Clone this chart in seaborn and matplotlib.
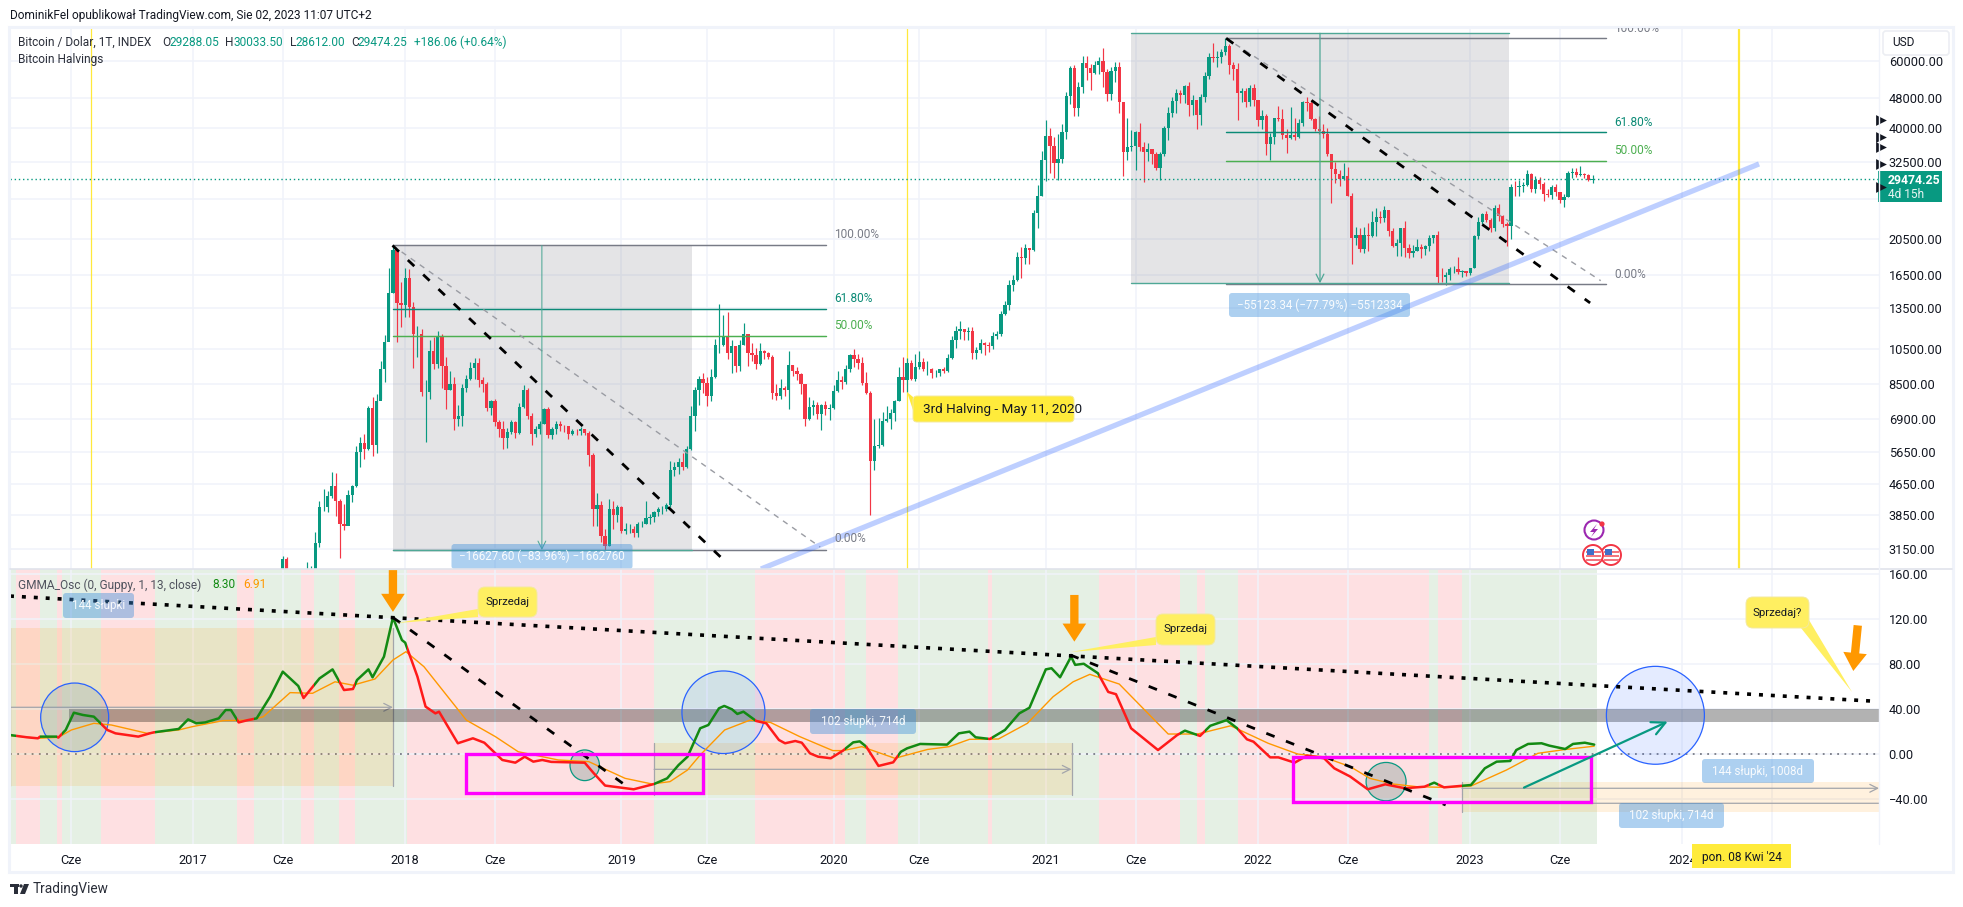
import numpy as np
import pandas as pd
import matplotlib
matplotlib.use("Agg")
import matplotlib.pyplot as plt
import seaborn as sns
from matplotlib.patches import Rectangle, Ellipse, FancyBboxPatch, Polygon, Circle

# all x values are weeks since 2017-01-02, like bar indexes on the chart
year_ticks = [22 - 52, 0, 22, 52, 74, 105, 126, 157, 178, 209, 231, 261, 283, 313, 335, 365, 387]
year_labels = ["Cze", "2017", "Cze", "2018", "Cze", "2019", "Cze", "2020", "Cze", "2021", "Cze",
               "2022", "Cze", "2023", "Cze", "2024", ""]
price_ticks = [60000, 48000, 40000, 32500, 26000, 20500, 16500, 13500, 10500, 8500, 6900, 5650, 4650, 3850, 3150]
osc_ticks = [160, 120, 80, 40, 0, -40]
halving_weeks = [-25, 175, 379]
halving_widths = [0.9, 0.9, 1.6]

first_week = 22
candle_close = [
    2950, 2650, 2550, 2500, 2500, 1950, 2750, 2750, 3250, 4050,
    4050, 4330, 4600, 4200, 3650, 3600, 4350, 4600, 5650, 5950,
    5750, 7350, 5900, 7700, 9300, 11000, 14800, 19100, 13900, 13700,
    16200, 13600, 11500, 11500, 8100, 8100, 10400, 9600, 11400, 9500,
    8200, 8500, 6900, 7000, 8300, 8800, 9400, 9650, 8700, 8500,
    7350, 7700, 6750, 6500, 6150, 6380, 6750, 6350, 7400, 8200,
    7000, 6300, 6500, 6700, 7300, 6250, 6500, 6700, 6620, 6600,
    6300, 6420, 6400, 6480, 6350, 5550, 4000, 4100, 3400, 3200,
    4000, 3850, 4050, 3500, 3550, 3550, 3470, 3650, 3650, 3800,
    3820, 3920, 4000, 4000, 4100, 5050, 5150, 5300, 5150, 5750,
    7000, 8200, 8750, 8550, 7900, 8900, 10800, 10800, 11400, 10300,
    10700, 9500, 10800, 11500, 10300, 10150, 9600, 10400, 10300, 10050,
    8050, 7900, 8300, 8200, 9550, 9200, 9050, 8500, 6900, 7400,
    7500, 7100, 7500, 7300, 7350, 8150, 8700, 8600, 9350, 10150,
    9900, 9650, 8550, 8050, 5350, 5850, 5900, 6800, 6900, 7130,
    7700, 8900, 8700, 9650, 8750, 9450, 9750, 9300, 9300, 9100,
    9100, 9300, 9200, 9950, 11100, 11700, 11850, 11650, 11700, 10250,
    10450, 10920, 10750, 10700, 11350, 11500, 13000, 13750, 15500, 16000,
    18400, 18200, 19350, 19150, 23900, 26500, 33000, 38100, 35800, 32300,
    33100, 39000, 48500, 57500, 45200, 51100, 59100, 57500, 55800, 58500,
    59800, 56200, 49000, 56600, 58000, 46700, 34700, 35700, 35800, 39000,
    35600, 34700, 35300, 34200, 31500, 34200, 39900, 43800, 47000, 49300,
    48800, 51700, 46000, 47300, 43200, 48200, 54700, 61500, 60900, 61300,
    63300, 65500, 58700, 57300, 49400, 50100, 46700, 50800, 47300, 41900,
    43100, 36300, 37900, 42400, 42200, 38400, 37700, 38400, 37800, 41300,
    46800, 46400, 42200, 39700, 39400, 38500, 34100, 31300, 30300, 29450,
    29900, 26600, 20600, 21000, 19300, 20900, 20800, 22600, 23300, 23200,
    24300, 21500, 19550, 20000, 21800, 19400, 18800, 19050, 19440, 19260,
    19570, 20630, 20900, 16300, 16280, 16450, 17100, 17100, 16750, 16840,
    16620, 17130, 20870, 22700, 23750, 22950, 21850, 24640, 23560, 22430,
    22160, 28000, 27990, 28170, 28330, 30310, 27590, 29240, 28450, 26910,
    26750, 28080, 27100, 25850, 26340, 30480, 30600, 30170, 30250, 30090,
    29280, 29474.25,
]
candle_high = [
    3020, 2990, 2780, 2630, 2640, 2560, 2900, 2840, 3490, 4210,
    4520, 4460, 5010, 4970, 4250, 4130, 4480, 4620, 5870, 6180,
    6310, 7470, 7880, 8010, 9790, 11430, 17170, 19666, 19000, 15800,
    17200, 17100, 14000, 12100, 11900, 8700, 11100, 11300, 11700, 11550,
    10000, 9200, 8900, 7500, 8500, 9000, 9750, 9950, 9950, 8900,
    8600, 7750, 7800, 6850, 6800, 6530, 6850, 6800, 7570, 8480,
    8300, 7150, 6600, 6800, 7350, 7400, 6550, 6800, 6800, 6650,
    6600, 6500, 6500, 6550, 6500, 6400, 5600, 4400, 4200, 3550,
    4250, 4200, 4100, 4070, 3680, 3660, 3600, 3700, 3720, 4200,
    3880, 3950, 4050, 4080, 4150, 5350, 5320, 5450, 5600, 5850,
    7450, 8370, 8950, 9100, 8900, 9350, 11200, 13800, 12900, 13130,
    11100, 10700, 11080, 12300, 11400, 10900, 10600, 10900, 10450, 10350,
    10150, 8500, 8750, 8400, 10400, 9550, 9450, 9100, 8500, 7850,
    7750, 7650, 7550, 7700, 7550, 8450, 9190, 8950, 9550, 10200,
    10500, 10200, 10000, 9170, 8150, 6900, 6950, 7200, 7450, 7300,
    7750, 9460, 10050, 9950, 9850, 10200, 10400, 9990, 9800, 9400,
    9250, 9350, 9450, 10200, 11400, 12100, 12450, 11800, 12000, 12050,
    10650, 11200, 10950, 10950, 11650, 11750, 13250, 14100, 15950, 16500,
    18950, 19500, 19900, 19400, 24300, 28300, 34800, 42000, 40100, 37900,
    38600, 40900, 49700, 58300, 58400, 52700, 61800, 61800, 59000, 60100,
    61300, 64900, 57200, 58000, 59500, 59600, 46700, 42500, 39500, 39400,
    41300, 36700, 36600, 35100, 34600, 34600, 40500, 45300, 48100, 50500,
    50400, 52000, 52800, 48800, 45100, 49200, 56000, 62900, 67000, 63700,
    64300, 69000, 66300, 59500, 59100, 51000, 50800, 51900, 52100, 47500,
    44500, 43500, 38900, 42600, 45800, 44800, 39800, 45400, 42500, 42300,
    47100, 48200, 47400, 42500, 42900, 41000, 40000, 34200, 32600, 31000,
    32400, 31600, 27000, 22000, 21800, 22000, 22500, 24200, 24700, 24200,
    25000, 24400, 21900, 20500, 21800, 22800, 19900, 19700, 20400, 19900,
    19700, 21000, 21000, 21500, 17200, 16800, 17300, 17400, 18400, 17000,
    16900, 17200, 21000, 23300, 23950, 24250, 23200, 25100, 25300, 23600,
    22600, 28500, 29000, 29200, 28800, 31000, 30500, 30000, 29800, 28800,
    27600, 28400, 28450, 27100, 26800, 30800, 31400, 31500, 31800, 30400,
    30300, 30033.5,
]
candle_low = [
    2480, 2080, 2480, 2280, 2480, 1830, 1900, 2420, 2680, 3180,
    3950, 3930, 4280, 3830, 2980, 3530, 3640, 4170, 4560, 5150,
    5400, 5720, 5510, 5600, 7800, 8600, 11300, 14800, 11000, 12000,
    12800, 12800, 9400, 10000, 7900, 6000, 7800, 9300, 9400, 8300,
    7300, 8200, 6450, 6600, 6600, 8100, 8700, 8800, 8350, 8100,
    7250, 7050, 6600, 6200, 5750, 5800, 6300, 6150, 6300, 7350,
    6900, 5900, 6200, 6300, 6700, 6150, 6100, 6300, 6400, 6380,
    6100, 6270, 6250, 6250, 6250, 5200, 3600, 3600, 3270, 3130,
    3200, 3550, 3700, 3470, 3450, 3470, 3370, 3370, 3580, 3650,
    3660, 3700, 3830, 3880, 3960, 4050, 4870, 4930, 5050, 5120,
    5700, 6400, 7500, 8050, 7450, 7700, 8850, 10300, 10700, 9900,
    9100, 9170, 9200, 10800, 9500, 9800, 9350, 9550, 9900, 9900,
    7800, 7750, 7800, 7900, 7300, 8950, 8700, 8000, 6600, 6850,
    7050, 6900, 6450, 7050, 6850, 7300, 8100, 8250, 8500, 9150,
    9450, 9300, 8450, 8000, 3850, 5050, 5800, 5850, 6750, 6500,
    6800, 7700, 8100, 8100, 8700, 8650, 9300, 9200, 9000, 8850,
    8900, 8950, 9100, 9150, 9900, 10600, 11200, 11100, 11100, 9900,
    9900, 10300, 10150, 10350, 10550, 11200, 11400, 12900, 13300, 14900,
    15900, 16200, 17600, 17600, 19000, 21900, 26500, 29000, 30400, 29500,
    29200, 32300, 37400, 46200, 43000, 43000, 49300, 53300, 50400, 55400,
    55500, 51300, 47000, 47500, 52900, 43800, 30000, 33000, 34800, 31000,
    34800, 28800, 32700, 32100, 31000, 29300, 33800, 37300, 42800, 43900,
    46400, 46600, 42900, 43400, 39800, 40800, 46900, 53800, 59700, 57800,
    59400, 62300, 55600, 53500, 42000, 46800, 45500, 45600, 45700, 40600,
    39700, 34000, 32900, 36300, 41700, 37500, 34300, 37400, 37200, 37600,
    40500, 44200, 41900, 39200, 38600, 37600, 33700, 25400, 28700, 28200,
    29300, 26500, 17600, 19700, 18900, 18800, 19000, 20700, 20800, 22500,
    22700, 20800, 19500, 18500, 18500, 18300, 18200, 18400, 19000, 18200,
    18600, 19000, 20000, 15600, 15800, 15500, 16000, 16700, 16550, 16300,
    16400, 16500, 17200, 20500, 22400, 22700, 21400, 21500, 22800, 21950,
    19600, 20500, 26600, 26600, 27200, 28100, 27100, 26950, 27700, 25800,
    26300, 26100, 26600, 25400, 24800, 26300, 29600, 29800, 29900, 29600,
    29000, 28612,
]

fast_weeks = [
    -44.8, -40.7, -38, -37.5, -33.4, -33, -31.2, -29.2, -27, -24.3, -21, -19, -13.4, -10.6, -9.6, -3.5, -1.2, 0.8,
    3, 6.3, 8, 9.3, 11.2, 13.4, 15.6, 18.9, 22, 25.8, 27.1, 31, 34.2, 37, 39.2, 40.2, 43, 44, 46.8, 49, 51.2, 52,
    55, 57, 59.4, 60.3, 64.9, 68.6, 71.4, 75.8, 79, 81.3, 83.4, 85.6, 87.8, 96, 98.2, 101, 108, 113, 116.2, 119,
    121.2, 123.4, 124.3, 126.3, 128.9, 130.2, 132.1, 133.4, 134.9, 138, 140.5, 143.6, 145.1, 147.6, 149.2, 151.2,
    153.2, 156.3, 159.3, 161.8, 163.4, 165, 168, 171.6, 173.5, 175, 178.2, 184.8, 187.7, 190.3, 191.8, 195.3, 199,
    202.5, 205, 209, 210.4, 212.5, 215.2, 216.2, 218.3, 221.8, 224.3, 226.2, 229.9, 236.5, 241.2, 243.1, 246.8,
    249.3, 253.3, 255.9, 258.3, 259.9, 264, 266, 270, 273, 277.2, 279.7, 283.6, 287.9, 292.2, 297, 301.8, 304.2,
    306.6, 313.2, 316.6, 319.5, 322.8, 324.3, 327.2, 330.5, 332.4, 336.3, 338.2, 341.1, 343.4,
]
fast_values = [
    16.8, 14.8, 13.9, 15.4, 15.4, 14.5, 21.3, 36.6, 34.6, 33.1, 21.3, 18.3, 15.4, 18.3, 19.2, 22.2, 30.7, 27.2,
    28, 31.6, 39, 39, 28, 30, 31.6, 50.8, 73, 60.3, 49.6, 67, 75, 56.7, 57.6, 65.6, 75, 68, 86.3, 121, 101, 98.7,
    68.6, 42, 36, 37.5, 9.5, 13.9, 10, -5.3, -7.7, -2.4, -6.8, -5.3, -7, -7.7, -17, -28, -31.3, -26.6, -21.6, -9.8,
    -2.4, 15.4, 22.8, 25.7, 40.5, 42.6, 39.6, 35.5, 37.5, 29.3, 27.2, 12.4, 9.5, 11.5, 10, 0.6,
    -2.4, -3.8, 3, 10.3, 11.2, 6.5, -10.6, -7.4, 2, 5, 8.9, 8.3, 18.3, 19.8, 14.8, 13.3, 21.3,
    36, 41, 75, 76, 68, 86.3, 79, 80, 71.5, 55, 53, 22.8, 3.5, 16.8, 20.7, 16,
    25, 30, 22.8, 13, 10.9, -3, -3, -7.7, -1.5, -3.8, -12.7, -20, -31.3, -26.9, -30.4, -29, -25.4,
    -29.6, -27.5, -12.7, -6.8, -6.2, 3.5, 8.9, 9.5, 7.4, 4.4, 8.9, 10, 8.3,
]
signal_weeks = [
    -44.8, -38, -33, -29.8, -24.3, -20, -11.2, -3.5, -0.2, 7.4, 14, 17.2, 23.8, 29.3, 34.8, 39.2, 44.6, 49, 52.2,
    56.6, 67, 74.1, 79.7, 89.5, 97, 105.9, 112.5, 116.9, 121.2, 124.3, 130.3, 136.5, 141.5, 148.7, 156.8, 159.3,
    163.9, 172, 180, 185.3, 190.3, 197.4, 204.5, 210.8, 215.7, 219.8, 227, 239, 246.2, 254.3, 263.5, 270.7, 276.8,
    283.6, 288.4, 294.1, 299.9, 306.6, 313.2, 321.9, 329.6, 336.3, 343.4,
]
signal_values = [
    16.3, 13.9, 14.8, 21.3, 27.2, 25.7, 18.3, 21.3, 24.2, 29.6, 30, 33, 54.4, 53.8, 64, 61, 66.5, 83.3, 90.7,
    77.4, 30, 15.4, 2, -5.3, -6.8, -21.6, -26.6, -24.5, -14.2, -0.9, 21.3, 30, 28, 15.4, 3, 3,
    6.5, -3.8, 4, 6.5, 13, 13.3, 27.2, 50.8, 64, 70.6, 62, 17.7, 17.7, 25, 9.5, 0, -2.4,
    -11.2, -21.6, -26.6, -29, -29.6, -28.4, -14.2, 0.6, 4, 6.91,
]
# trend regions behind the oscillator, alternating green / red from the left
region_edges = [-44.85, -43.5, -37.5, -33.4, -32.2, -22.5, -9.3, 10.9, 14.9, 26.5, 29.7, 35.8, 39.7, 52.5, 113,
                137.7, 159.8, 165, 172.8, 194.9, 195.7, 222, 242, 246, 248, 256, 303, 305, 311, 344]

GREEN = "#089981"
RED = "#f23645"
TEXT = "#2a2e39"
GRID = "#f0f3fa"
W, H = 1963, 907
X_LEFT, X_RIGHT, Y_TOP, Y_SEP, Y_BOTTOM = 10, 1879, 28, 569, 844

sns.set_theme(style="white")
plt.rcParams["font.family"] = ["Roboto", "DejaVu Sans"]
plt.rcParams["font.size"] = 9


def make_axes(top, bottom):
    return fig.add_axes([X_LEFT / W, 1 - bottom / H, (X_RIGHT - X_LEFT) / W, (bottom - top) / H])


fig = plt.figure(figsize=(W / 100, H / 100), dpi=100, facecolor="white")
ax = make_axes(Y_TOP, Y_SEP)
osc = make_axes(Y_SEP, Y_BOTTOM)

for a in (ax, osc):
    a.set_xlim(-44.85, 413.2)
    a.set_xticks(year_ticks)
    a.yaxis.tick_right()
    a.grid(True, color=GRID, lw=1.1)
    a.set_axisbelow(True)
    a.tick_params(length=0, colors="#131722", labelsize=9.2)
    for s in a.spines.values():
        s.set_visible(False)

# price pane
ax.set_yscale("log")
ax.set_ylim(2784, 73200)
ax.set_yticks(price_ticks)
ax.set_yticklabels([f"{p:.2f}" if p != 26000 else "" for p in price_ticks])
ax.minorticks_off()
ax.set_xticklabels([])
ax.tick_params(axis="y", pad=7)

closes = np.array(candle_close, dtype=float)
opens = np.r_[2550.0, closes[:-1]]
highs = np.array(candle_high, dtype=float)
lows = np.array(candle_low, dtype=float)
weeks = first_week + np.arange(len(closes))
colors = np.where(closes >= opens, GREEN, RED)

ax.add_patch(Rectangle((48.9, 3122), 122.2 - 48.9, 19666 - 3122, color="#787b86", alpha=0.2, lw=0, zorder=1))
ax.add_patch(Rectangle((230, 15650), 322.4 - 230, 70900 - 15650, color="#787b86", alpha=0.2, lw=0, zorder=1))
for w, lw in zip(halving_weeks, halving_widths):
    ax.axvline(w, color="#ffe93b", lw=lw, zorder=1.5)

ax.vlines(weeks, lows, highs, colors=colors, lw=0.85, zorder=2)
ax.bar(weeks, np.abs(closes - opens), bottom=np.minimum(opens, closes), width=0.8, color=colors, lw=0, zorder=2.1)
ax.axhline(closes[-1], color=GREEN, lw=1, ls=(0, (1, 2)), zorder=2.2)

# fib retracements
fib_black = (0, (3.2, 4.4))
for x0, x1, levels, diag_end, black_end in [
    (48.9, 155.2, (19666, 13373, 11360, 3122), (153.7, 3180), (131.4, 2850)),
    (253.2, 346.3, (68800, 39000, 32710, 15580), (345, 15900), (342.4, 13900)),
]:
    for level, c in zip(levels, ("#787b86", "#0b8a76", "#4caf50", "#787b86")):
        ax.plot([x0, x1], [level, level], color=c, lw=1.05, zorder=3)
    ax.plot([x0, diag_end[0]], [levels[0], diag_end[1]], color="#9a9ca3", lw=1, ls=(0, (4, 4)), zorder=3)
    ax.plot([x0, black_end[0]], [levels[0], black_end[1]], color="black", lw=2, ls=fib_black, zorder=3.2)

# price range rulers
for x, y0, y1, c, lw in [(85.5, 19666, 3122, "#4fa896", 0.75), (276.2, 70900, 15650, "#4fa896", 0.9)]:
    ax.annotate("", xy=(x, y1), xytext=(x, y0), zorder=3,
                arrowprops=dict(arrowstyle="->", color=c, lw=lw, shrinkA=0, shrinkB=0, mutation_scale=14))
ax.plot([230, 322.4], [70900, 70900], color="#4fa896", lw=1, zorder=3)
ax.plot([230, 322.4], [15650, 15650], color="#4fa896", lw=1, zorder=3)
ax.plot([48.9, 122.2], [3122, 3122], color="#4fa896", lw=1, zorder=3)

# trend line
ax.plot([139.2, 383.8], [2784, 32190], color="#2962ff", alpha=0.3, lw=3.8, zorder=3.5, solid_capstyle="butt")

# oscillator pane
osc.set_ylim(-79.8, 164)
osc.set_yticks(osc_ticks)
osc.set_yticklabels([f"{v:.2f}".replace("-", "\u2212") for v in osc_ticks])
osc.set_xticklabels(year_labels)
osc.tick_params(axis="y", pad=7)
osc.tick_params(axis="x", pad=7)

region_spans = list(zip(region_edges[:-1], region_edges[1:]))
for i, (a, b) in enumerate(region_spans):
    osc.axvspan(a, b, color="#e5f0e4" if i % 2 == 0 else "#fee0e2", lw=0, zorder=0)

osc.axhline(0, color="#787b86", lw=1.3, ls=(0, (1, 3)), zorder=1)

# range boxes
for x0, x1, v0, v1, mid, head in [
    (-44.85, 49, 111.4, -28.4, 41.4, True),
    (113, 215.3, 9.8, -36.3, -13.6, True),
    (311, 413.2, -25.1, -35.5, -30.4, True),
    (311, 413.2, -35.5, -51.1, -43.7, False),
]:
    osc.add_patch(Rectangle((x0, v1), x1 - x0, v0 - v1, color="#ff9800", alpha=0.13, lw=0, zorder=1.2))
    osc.plot([x0, x0], [v0, v1], color="#a3a5ab", lw=0.9, zorder=1.3)
    if x1 < 400:
        osc.plot([x1, x1], [v0, v1], color="#a3a5ab", lw=0.9, zorder=1.3)
    osc.annotate("", xy=(x1, mid), xytext=(x0, mid), zorder=1.3,
                 arrowprops=dict(arrowstyle="->" if head else "-", color="#a3a5ab", lw=0.9, shrinkA=0, shrinkB=0,
                                 mutation_scale=14))

osc.add_patch(Rectangle((-30.5, 28.4), 413.2 + 30.5, 11.5, color="black", alpha=0.3, lw=0, zorder=1.4))

# ellipses, centre in data and radii in pixels
for wk, v, rx, ry, edge, fc, alpha in [
    (-29, 32.5, 34, 30.4, "#2962ff", "#6d8fa8", 0.22),
    (130, 37, 41.5, 36.6, "#2962ff", "#2962ff", 0.1),
    (358.4, 34.3, 49, 43.4, "#2962ff", "#2962ff", 0.12),
    (96, -10, 14.7, 13.6, GREEN, "#5f8a85", 0.3),
    (292.4, -24.5, 20, 17, GREEN, "#5f8a85", 0.3),
]:
    osc.add_patch(Ellipse((wk, v), 2 * rx / 4.08, 2 * ry, fc=fc, alpha=alpha, lw=0, zorder=1.5))
    osc.add_patch(Ellipse((wk, v), 2 * rx / 4.08, 2 * ry, fc="none", ec=edge, lw=0.9, zorder=1.5))

# fast line drawn once per region, clipped to it so that the colour follows the trend
for i, (a, b) in enumerate(region_spans):
    sns.lineplot(x=fast_weeks, y=fast_values, color="#138a13" if i % 2 == 0 else "#ff1a1a", lw=1.8,
                 estimator=None, sort=False, legend=False, ax=osc, zorder=3)
    line = osc.lines[-1]
    line.set_clip_path(Rectangle((a, -200), b - a, 500, transform=osc.transData))
sns.lineplot(x=signal_weeks, y=signal_values, color="#ff9800", lw=1, estimator=None, sort=False, legend=False,
             ax=osc, zorder=2.8)
osc.set_xlabel("")
osc.set_ylabel("")

# hand drawn lines on the oscillator
osc.plot([-44.85, 411], [140, 47], color="black", lw=2.6, ls=(0, (1.1, 2.2)), zorder=3.2)
osc.plot([49, 107], [121, -30.4], color="black", lw=2, ls=fib_black, zorder=3.2)
osc.plot([215, 307], [87.8, -45.2], color="black", lw=2, ls=fib_black, zorder=3.2)
for x0, x1, v0, v1 in [(67, 125, 0, -35), (269.6, 342.6, -2.4, -43)]:
    osc.add_patch(Rectangle((x0, v1), x1 - x0, v0 - v1, fc="none", ec="#ff00ff", lw=2.4, zorder=3.3))
osc.annotate("", xy=(361.4, 28.7), xytext=(326.2, -29.8), zorder=3.4,
             arrowprops=dict(arrowstyle="->", color=GREEN, lw=1.6, shrinkA=0, shrinkB=0, mutation_scale=24))
for x0, v0, x1, v1 in [(49, 163, 49, 126), (216, 141, 216, 99.6), (408, 114, 406.9, 73.6)]:
    osc.annotate("", xy=(x1, v1), xytext=(x0, v0), zorder=3.5,
                 arrowprops=dict(width=6, headwidth=17, headlength=13, color="#ff9800", lw=0, shrink=0))

# overlay in pixel coordinates for the frame, texts and label boxes
ov = fig.add_axes([0, 0, 1, 1], zorder=10)
ov.set_xlim(0, W)
ov.set_ylim(H, 0)
ov.axis("off")
ov.patch.set_alpha(0)

ov.add_patch(Rectangle((9, 27), 1944, 845, fc="none", ec=GRID, lw=2.2))
ov.plot([10, 1952], [569, 569], color="#e0e3eb", lw=1.2)
ov.plot([X_RIGHT, X_RIGHT], [28, 844], color="#f0f3fa", lw=1)


def label(x, y, s, color=TEXT, size=8.6, ha="left", **kw):
    return ov.text(x, y, s, color=color, fontsize=size, ha=ha, va="center", **kw)


def blue_box(x0, x1, y0, y1, s):
    ov.add_patch(FancyBboxPatch((x0 + 3, y0 + 3), x1 - x0 - 6, y1 - y0 - 6, boxstyle="round,pad=3,rounding_size=3",
                                fc="#3d8fdc", alpha=0.42, lw=0))
    label((x0 + x1) / 2, (y0 + y1) / 2, s, color="white", ha="center", alpha=0.92, size=8.4)


def callout(x0, x1, y0, y1, base, tip, s, size=8.2, c="#ffef61", round_px=7):
    ov.add_patch(Polygon([base[0], base[1], tip], fc=c, lw=0))
    ov.add_patch(FancyBboxPatch((x0 + round_px, y0 + round_px), x1 - x0 - 2 * round_px, y1 - y0 - 2 * round_px,
                                boxstyle=f"round,pad={round_px},rounding_size={round_px}", fc=c, ec="#f3e9a0", lw=0.7))
    label((x0 + x1) / 2, (y0 + y1) / 2, s, color="#131722", size=size, ha="center")


label(10, 15, "DominikFel opublikował TradingView.com, Sie 02, 2023 11:07 UTC+2", color="#131722")
label(18, 42, "Bitcoin / Dolar, 1T, INDEX")
for x, s, c in [(162, "O", TEXT), (170, "29288.05", GREEN), (225, "H", TEXT), (233, "30033.50", GREEN),
                (290, "L", TEXT), (295, "28612.00", GREEN), (351, "C", TEXT), (358, "29474.25", GREEN),
                (414, "+186.06 (+0.64%)", GREEN)]:
    label(x, 42, s, color=c)
label(18, 59, "Bitcoin Halvings")

label(18, 585, "GMMA_Osc (0, Guppy, 1, 13, close)", color="#50535e")
label(212, 585, "8.30", color="#138a13")
label(243, 585, "6.91", color="#ff9800")

# fib level captions
for x, y, s, c in [(834.5, 235, "100.00%", "#787b86"), (834.5, 299, "61.80%", "#0b8a76"),
                   (834.5, 325.7, "50.00%", "#4caf50"), (834.5, 539, "0.00%", "#787b86"),
                   (1614, 122, "61.80%", "#0b8a76"), (1614, 151, "50.00%", "#4caf50"), (1614, 274, "0.00%", "#787b86")]:
    label(x, y, s, color=c)
t = label(1614, 28, "100.00%", color="#787b86")
t.set_clip_on(True)
t.set_clip_path(Rectangle((0, 28), W, 40, transform=ov.transData))

blue_box(451.5, 632.5, 544, 569, "\u221216627.60 (\u221283.96%) \u22121662760")
blue_box(1229, 1410, 293, 317, "\u221255123.34 (\u221277.79%) \u22125512334")
blue_box(63, 134, 593, 618, "144 słupki")
blue_box(810, 916, 709, 734, "102 słupki, 714d")
blue_box(1702, 1814, 759, 783, "144 słupki, 1008d")
blue_box(1619, 1724, 803, 828, "102 słupki, 714d")

callout(478, 537, 587, 617, ((478, 609), (478, 617)), (397, 623), "Sprzedaj")
callout(1156, 1215, 614, 645, ((1156, 637), (1156, 645)), (1071, 652), "Sprzedaj")
callout(1746, 1809, 597, 628, ((1801, 628), (1809, 620)), (1852, 692), "Sprzedaj?")
callout(913, 1074, 396, 422, ((913, 397), (913, 410)), (907, 392), "", c="#ffeb3b", round_px=4)
label(923, 409, "3rd Halving - May 11, 2020", color="#131722", size=9.7)

# last price tag
ov.add_patch(Rectangle((1878, 171), 64, 31, fc=GREEN, lw=0))
label(1888, 180, "29474.25", color="white", weight="bold", size=8.8)
label(1888, 194, "4d 15h", color="#e8f5f2")
ov.scatter([1881, 1881, 1881, 1881, 1881], [120, 137, 147, 164, 187], marker=">", s=60, color="#131722", lw=0)

# currency button
ov.add_patch(FancyBboxPatch((1887, 35), 58, 16, boxstyle="round,pad=4,rounding_size=3", fc="white", ec="#eceef3", lw=1.2))
label(1892, 43, "USD", color="#131722")

# date cursor label
ov.add_patch(Rectangle((1692, 844), 99, 24, fc="#ffeb3b", lw=0))
label(1741.5, 857, "pon. 08 Kwi '24", color="#131722", ha="center")

# news icons
ov.add_patch(Circle((1594, 530), 9.5, fc="white", ec="#9c27b0", lw=1.5))
ov.add_patch(Polygon([(1597, 524), (1590, 532), (1594, 532), (1591, 537), (1598, 529), (1594, 529)], fc="#9c27b0", lw=0))
ov.add_patch(Circle((1602, 524), 2.6, fc="#f23645", lw=0))
for x in (1611, 1593):
    ov.add_patch(Circle((x, 555), 10, fc="white", ec="#f23645", lw=1.4))
    for y in (552, 556, 560):
        ov.add_patch(Rectangle((x - 7.5, y - 1), 15, 2.2, fc="#f2757f", lw=0))
    ov.add_patch(Rectangle((x - 6.5, 549), 7, 6, fc="#3f6fc9", lw=0))

# footer logo
ov.add_patch(Rectangle((10, 884), 9, 3, fc=TEXT, lw=0))
ov.add_patch(Rectangle((14, 884), 4, 10, fc=TEXT, lw=0))
ov.add_patch(Circle((21, 886), 1.7, fc=TEXT, lw=0))
ov.add_patch(Polygon([(24, 884), (29, 884), (25, 894), (20, 894)], fc=TEXT, lw=0))
label(33, 889, "TradingView", size=9.8)

fig.savefig("out.png", dpi=100)
